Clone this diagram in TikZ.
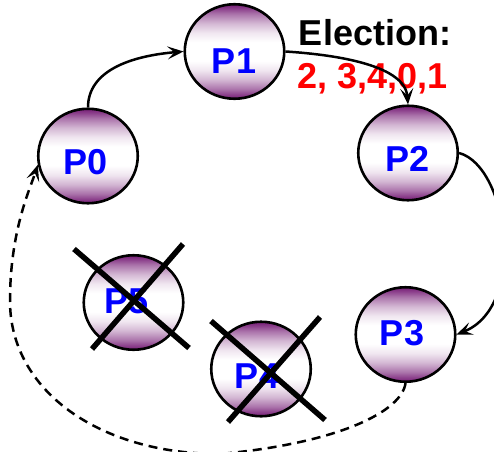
\documentclass[tikz,border=0pt]{standalone}
\usepackage{fontspec}
\setmainfont{Liberation Sans}
\usetikzlibrary{shapes.geometric,arrows.meta}
\definecolor{purp}{RGB}{118,28,118}
\definecolor{pblue}{RGB}{0,0,255}
\definecolor{ered}{RGB}{255,0,0}
\pgfdeclareverticalshading{procshade}{100bp}{color(0bp)=(purp); color(25bp)=(purp);
  color(27.5bp)=(purp!82!white); color(30bp)=(purp!62!white); color(35bp)=(purp!32!white);
  color(40bp)=(purp!11!white); color(45bp)=(white); color(55bp)=(white);
  color(60bp)=(purp!11!white); color(65bp)=(purp!32!white); color(70bp)=(purp!62!white);
  color(72.5bp)=(purp!82!white); color(75bp)=(purp); color(100bp)=(purp)}
\begin{document}
\begin{tikzpicture}[x=1pt,y=1pt,
  proc/.style={ellipse, draw=black, line width=2.6pt, minimum width=99.5pt, minimum height=94.5pt,
    inner sep=0pt, shading=procshade},
  plabel/.style={font=\fontsize{36}{40}\selectfont\bfseries, text=pblue, inner sep=0pt},
  conn/.style={line width=2.5pt, -{Stealth[length=16pt,width=13pt,inset=7pt]}},
  dconn/.style={conn, dash pattern=on 9pt off 6pt},
  cross/.style={line width=5.5pt, black}]
\useasboundingbox (0,0) rectangle (494,451);
% processes
\node[proc] (P0) at (88,295) {};
\node[proc] (P1) at (234.5,399.5) {};
\node[proc] (P2) at (408,298) {};
\node[proc] (P3) at (405.5,116.5) {};
\node[proc] (P5) at (133.5,148.5) {};
\node[proc] (P4) at (261,82) {};
\node[plabel] (t0) at (85.5,289) {P0};
\node[plabel] (t1) at (234,390) {P1};
\node[plabel] (t2) at (407.5,292.5) {P2};
\node[plabel] (t3) at (402,118) {P3};
\node[plabel] (t5) at (127,150) {P5};
\node[plabel] (t4) at (257,75) {P4};
% election text
\node[font=\fontsize{36}{40}\selectfont\bfseries, inner sep=0pt, anchor=base] (el) at (375,406) {Election:};
\node[font=\fontsize{36}{40}\selectfont\bfseries, text=ered, inner sep=0pt, anchor=base] (seq) at (372.5,363) {2, 3,4,0,1};
% connectors
\draw[conn] (P0.north) .. controls (88,380) and (130,395) .. (P1.west);
\draw[conn] (P1.east) .. controls (340,396) and (405,385) .. (P2.north);
\draw[conn] (P2.east) .. controls (508,285) and (528,145) .. (P3.east);
\coordinate (d1) at (220,-3);
\coordinate (d2) at (10,150);
\draw[dconn] (P3.south) .. controls (402,40) and (340,8) .. (d1)
  .. controls (100,-3) and (10,60) .. (d2)
  .. controls (10,220) and (30,262) .. (P0.190);
% crosses
\draw[cross] ([shift={(-59.5,53.5)}]P5.center) -- ([shift={(55.5,-45.5)}]P5.center);
\draw[cross] ([shift={(49.5,58.5)}]P5.center) -- ([shift={(-41.5,-46.5)}]P5.center);
\draw[cross] ([shift={(-50,48)}]P4.center) -- ([shift={(64,-51)}]P4.center);
\draw[cross] ([shift={(59,52)}]P4.center) -- ([shift={(-33,-53)}]P4.center);
\end{tikzpicture}
\end{document}
